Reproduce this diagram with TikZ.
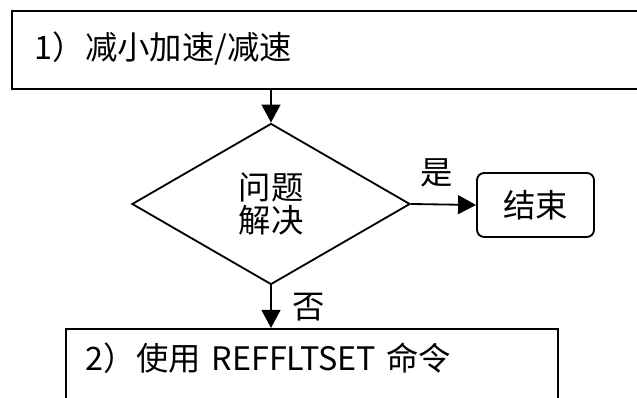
\documentclass[tikz,border=0pt]{standalone}
\usepackage{fontspec}
\setmainfont{Noto Sans CJK SC}
\usetikzlibrary{shapes.geometric,arrows.meta}
\tikzset{
  flowline/.style={line width=1.3pt, -{Triangle[length=0.45cm,width=0.47cm]}},
  stepbox/.style={draw, line width=1.3pt, anchor=north west, align=left, inner ysep=0pt},
}
\begin{document}
\begin{tikzpicture}[x=0.025cm, y=-0.025cm, font=\fontsize{23}{23.5}\selectfont]
    % Canvas (px units)
    \useasboundingbox (0,0) rectangle (637,398);
    \clip (0,0) rectangle (637,398);

    % Steps
    \node[stepbox, inner xsep=0.575cm, text width=15.6cm, text height=1.225cm, text depth=0.725cm] (reduce) at (11,10) {1）减小加速/减速};
    \node[stepbox, inner xsep=0.5cm, text width=11.3cm, text height=1.05cm, text depth=2cm] (refflt) at (65,328) {2）使用 REFFLTSET 命令};

    % Decision and end
    \node[draw, diamond, line width=1.3pt, minimum width=6.95cm, minimum height=4.025cm, align=center, inner sep=0pt] (solved) at (271,204) {问题\\解决};
    \node[draw, rounded corners=0.18cm, line width=1.3pt, minimum width=2.925cm, minimum height=1.6cm] (finish) at (535.5,205) {结束};

    % Connectors
    \draw[flowline] (solved.north |- reduce.south) -- (solved.north);
    \draw[flowline] (solved.east) -- node[pos=0.4, above=0.3cm] {是} (finish.west);
    \draw[flowline] (solved.south) -- node[right=0.4cm] {否} (solved.south |- refflt.north);
\end{tikzpicture}
\end{document}
